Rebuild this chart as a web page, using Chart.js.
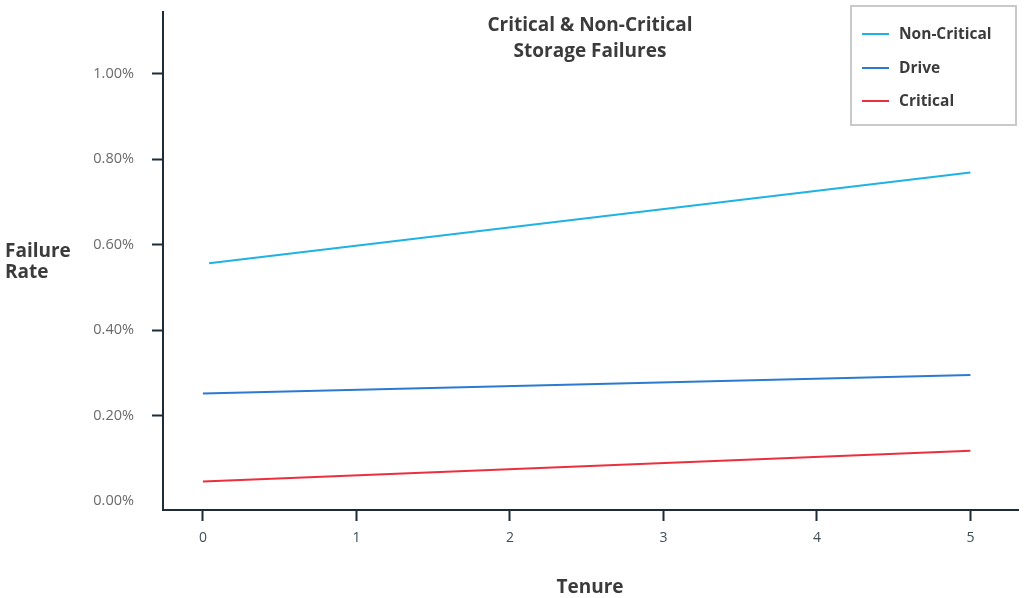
<!DOCTYPE html>
<html>
<head>
<meta charset="utf-8">
<script src="https://cdn.jsdelivr.net/npm/chart.js@4/dist/chart.umd.min.js"></script>
<style>
  html, body { margin: 0; padding: 0; background: #fff; }
  body { width: 1024px; height: 598px; position: relative; overflow: hidden; font-family: 'Open Sans', sans-serif; }
  #chart { position: absolute; left: 0; top: 0; }
  .lbl { position: absolute; color: #3b3b3b; font-weight: 700; white-space: nowrap; }
  #title { left: 390px; width: 400px; top: 11px; text-align: center; font-size: 19px; line-height: 26px; }
  #ytitle { left: 5px; top: 240px; font-size: 19px; line-height: 21px; }
  #xtitle { left: 490px; width: 200px; top: 573px; text-align: center; font-size: 19px; line-height: 26px; }
  #legend { position: absolute; left: 850px; top: 5px; width: 163px; height: 117px; border: 2px solid #c9c9c9; }
  .item { position: absolute; left: 10px; height: 20px; font-size: 15.5px; font-weight: 700; color: #3b3b3b; line-height: 20px; }
  .item span.sw { position: absolute; left: 0; top: 10px; width: 27px; height: 2px; }
  .item span.tx { position: absolute; left: 37px; top: 0; white-space: nowrap; }
</style>
</head>
<body>
<canvas id="chart" width="1024" height="598"></canvas>
<div id="title" class="lbl">Critical &amp; Non-Critical<br>Storage Failures</div>
<div id="ytitle" class="lbl">Failure<br>Rate</div>
<div id="xtitle" class="lbl">Tenure</div>
<div id="legend"></div>
<script>
// values (failure rate in %)
const seriesNames = ['Non-Critical', 'Drive', 'Critical']
const seriesColors = ['#1fb2e3', '#2a7bcf', '#ec2f3d']
const nonCriticalTenure = [0.04, 5]
const nonCriticalRate = [0.557, 0.769]
const driveTenure = [0, 5]
const driveRate = [0.252, 0.295]
const criticalTenure = [0, 5]
const criticalRate = [0.046, 0.118]
const xTicks = [0, 1, 2, 3, 4, 5]
const yTicks = [0, 0.2, 0.4, 0.6, 0.8, 1.0]

const axisColor = '#1d2d38'

function pts(xs, ys) {
  return xs.map((x, i) => ({ x, y: ys[i] }))
}

const seriesData = [
  pts(nonCriticalTenure, nonCriticalRate),
  pts(driveTenure, driveRate),
  pts(criticalTenure, criticalRate),
]

// legend as html text
const legendEl = document.getElementById('legend')
seriesNames.forEach((name, i) => {
  const it = document.createElement('div')
  it.className = 'item'
  it.style.top = (16 + i * 33.5) + 'px'
  it.innerHTML = '<span class="sw" style="background:' + seriesColors[i] + '"></span><span class="tx">' + name + '</span>'
  legendEl.appendChild(it)
})

new Chart(document.getElementById('chart'), {
  type: 'line',
  data: {
    datasets: seriesNames.map((name, i) => ({
      label: name,
      data: seriesData[i],
      borderColor: seriesColors[i],
      backgroundColor: seriesColors[i],
      borderWidth: 2,
      pointRadius: 0,
      tension: 0,
      fill: false,
    })),
  },
  options: {
    responsive: false,
    animation: false,
    layout: { padding: { left: 0, right: 6, top: 12, bottom: 0 } },
    plugins: {
      legend: { display: false },
      title: { display: false },
      tooltip: { enabled: false },
    },
    scales: {
      x: {
        type: 'linear',
        min: -0.26,
        max: 5.31,
        afterBuildTicks: (s) => { s.ticks = xTicks.map(v => ({ value: v })) },
        afterFit: (s) => { s.height = 88; s.paddingLeft = 0; s.paddingRight = 0 },
        border: { color: axisColor, width: 2 },
        grid: { drawOnChartArea: false, drawTicks: true, tickLength: 11, tickColor: axisColor, tickWidth: 2 },
        ticks: {
          color: '#3f4f5a',
          padding: 9,
          font: { family: 'Open Sans', size: 14 },
          callback: (v) => String(v),
        },
      },
      y: {
        min: -0.021,
        max: 1.145,
        afterBuildTicks: (s) => { s.ticks = yTicks.map(v => ({ value: v })) },
        afterFit: (s) => { s.width = 163; s.paddingTop = 0; s.paddingBottom = 0 },
        border: { color: axisColor, width: 2 },
        grid: {
          drawOnChartArea: false,
          drawTicks: true,
          tickLength: 11,
          tickWidth: 2,
          tickColor: (ctx) => (ctx.tick && ctx.tick.value === 0 ? 'rgba(0,0,0,0)' : axisColor),
        },
        ticks: {
          color: '#6a6a6a',
          padding: 18,
          font: { family: 'Open Sans', size: 14.5 },
          callback: (v) => v.toFixed(2) + '%',
        },
      },
    },
  },
})
</script>
</body>
</html>
